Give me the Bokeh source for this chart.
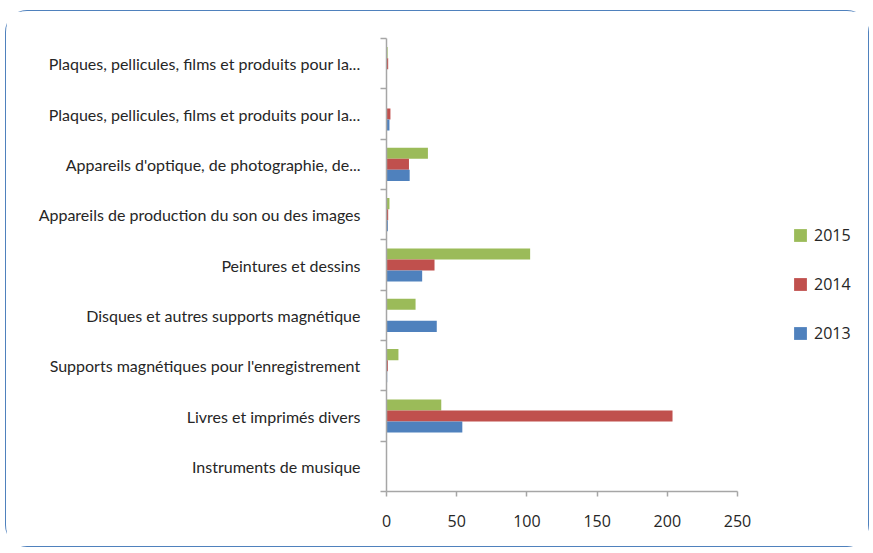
from bokeh.plotting import figure
from bokeh.models import ColumnDataSource, Range1d, FixedTicker, Legend, LegendItem
from bokeh.transform import dodge
from bokeh.embed import file_html
from bokeh.resources import INLINE

categories = [
    "Plaques, pellicules, films et produits pour la...",
    "Plaques, pellicules, films et produits pour la...",
    "Appareils d'optique, de photographie, de...",
    "Appareils de production du son ou des images",
    "Peintures et dessins",
    "Disques et autres supports magnétique",
    "Supports magnétiques pour l'enregistrement",
    "Livres et imprimés divers",
    "Instruments de musique",
]
v2015 = [0.8, 0, 29.5, 2.1, 102.3, 20.7, 8.5, 39, 0]
v2014 = [1.2, 2.8, 16, 1.2, 34.2, 0, 1, 203.7, 0]
v2013 = [0, 2.1, 16.5, 1, 25.4, 35.8, 0.5, 54, 0]
x_ticks = [0, 50, 100, 150, 200, 250]

c2015 = "#9BBB59"
c2014 = "#C0504D"
c2013 = "#4F81BD"
axis_col = "#A6A6A6"

n = len(categories)
ypos = list(range(n - 1, -1, -1))
src = ColumnDataSource(dict(y=ypos, v2013=v2013, v2014=v2014, v2015=v2015))

p = figure(width=864, height=537, output_backend="svg", toolbar_location=None,
           x_range=Range1d(0, 339.0), y_range=Range1d(-0.5, n - 0.5),
           min_border_left=380, min_border_right=8, min_border_top=27, min_border_bottom=57)
p.styles = {"margin-left": "5px", "margin-top": "10px",
            "border": "1.5px solid #4F81BD", "border-radius": "22px"}
p.xgrid.visible = False
p.ygrid.visible = False
p.outline_line_color = None

bh = 0.22
r15 = p.hbar(y=dodge("y", bh, range=p.y_range), left=0, right="v2015", height=bh,
             fill_color=c2015, line_color=None, source=src)
r14 = p.hbar(y=dodge("y", 0, range=p.y_range), left=0, right="v2014", height=bh,
             fill_color=c2014, line_color=None, source=src)
r13 = p.hbar(y=dodge("y", -bh, range=p.y_range), left=0, right="v2013", height=bh,
             fill_color=c2013, line_color=None, source=src)

legend = Legend(items=[LegendItem(label="2015", renderers=[r15]),
                       LegendItem(label="2014", renderers=[r14]),
                       LegendItem(label="2013", renderers=[r13])],
                location=(406, 147), padding=0, margin=0, spacing=27,
                glyph_width=16, glyph_height=16, label_height=16, label_standoff=6,
                border_line_alpha=0, background_fill_alpha=0,
                label_text_font="Open Sans", label_text_font_size="16px",
                label_text_color="#262626")
p.add_layout(legend)

ya = p.yaxis[0]
ya.ticker = FixedTicker(ticks=ypos, minor_ticks=[k - 0.5 for k in range(n + 1)])
ya.major_label_overrides = {y: c for y, c in zip(ypos, categories)}
ya.axis_line_color = axis_col
ya.axis_line_width = 1.5
ya.major_tick_out = 0
ya.major_tick_in = 0
ya.minor_tick_out = 6
ya.minor_tick_in = 0
ya.minor_tick_line_color = axis_col
ya.minor_tick_line_width = 1.5
ya.major_label_standoff = 20
ya.major_label_text_font = "Lato"
ya.major_label_text_font_size = "16px"
ya.major_label_text_color = "#262626"

xa = p.xaxis[0]
xa.ticker = FixedTicker(ticks=x_ticks, minor_ticks=[])
xa.bounds = (0, 250)
xa.axis_line_color = axis_col
xa.axis_line_width = 1.5
xa.major_tick_out = 5
xa.major_tick_in = 0
xa.major_tick_line_color = axis_col
xa.major_tick_line_width = 1.5
xa.minor_tick_line_color = None
xa.major_label_standoff = 18
xa.major_label_text_font = "Open Sans"
xa.major_label_text_font_size = "16px"
xa.major_label_text_color = "#262626"

open("out.html", "w").write(file_html(p, INLINE))
